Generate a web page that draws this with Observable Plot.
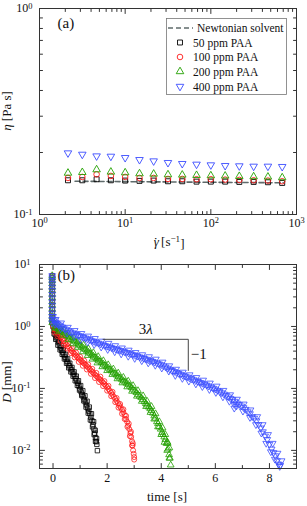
<!DOCTYPE html>
<html><head><meta charset="utf-8">
<script src="https://cdn.jsdelivr.net/npm/d3@7"></script>
<script src="https://cdn.jsdelivr.net/npm/@observablehq/plot@0.6"></script>
<style>
html,body{margin:0;padding:0;background:#fff;}
#chart{position:relative;width:307px;height:506px;}
#chart svg{display:block;}
</style></head><body><div id="chart"></div>
<script>
// ---------- Panel (a): shear viscosity ----------
const shearRates = [2.15, 3.16, 4.64, 6.81, 10, 14.7, 21.5, 31.6, 46.4, 68.1, 100, 147, 215, 316, 464, 681];
const eta50  = [0.1466, 0.1466, 0.1483, 0.1466, 0.1461, 0.1456, 0.1461, 0.1450, 0.1450, 0.1444, 0.1444, 0.1444, 0.1439, 0.1439, 0.1434, 0.1423];
const eta100 = [0.1505, 0.1522, 0.1567, 0.1539, 0.1522, 0.1505, 0.1505, 0.1488, 0.1488, 0.1483, 0.1483, 0.1477, 0.1472, 0.1466, 0.1461, 0.1450];
const eta200 = [0.1590, 0.1602, 0.1651, 0.1609, 0.1596, 0.1579, 0.1573, 0.1561, 0.1556, 0.1550, 0.1544, 0.1539, 0.1533, 0.1527, 0.1522, 0.1510];
const eta400 = [0.1988, 0.1958, 0.1922, 0.1915, 0.1887, 0.1845, 0.1818, 0.1785, 0.1765, 0.1752, 0.1739, 0.1726, 0.1720, 0.1713, 0.1713, 0.1707];
const solventRates = [2.6, 700];
const solventEta = [0.1450, 0.1425];

const legendLabels = ["Newtonian solvent", "50 ppm PAA", "100 ppm PAA", "200 ppm PAA", "400 ppm PAA"];
const seriesColors = ["#000000", "#ff1a1a", "#22a000", "#3a4cff"];
const solventColor = "#5f6b6b";

// ---------- Panel (b): filament diameter decay (t [s], D [mm]) ----------
const dropT = -0.03;
const dropD = [6.6, 6.1, 5.5, 4.9, 4.3, 3.8, 3.3, 2.9, 2.5, 2.2, 1.9, 1.65, 1.45, 1.3, 1.15];
const decay50 = [[0.00,1.0],[0.04,0.85],[0.08,0.74],[0.12,0.66],[0.16,0.61],[0.20,0.55],[0.24,0.49],[0.28,0.45],[0.32,0.41],[0.36,0.38],[0.40,0.35],[0.44,0.32],[0.48,0.295],[0.52,0.272],[0.56,0.252],[0.60,0.233],[0.64,0.216],[0.68,0.200],[0.72,0.184],[0.76,0.170],[0.80,0.157],[0.84,0.144],[0.88,0.132],[0.92,0.121],[0.96,0.109],[1.00,0.098],[1.04,0.088],[1.08,0.080],[1.12,0.073],[1.16,0.066],[1.20,0.060],[1.24,0.054],[1.28,0.048],[1.32,0.043],[1.36,0.039],[1.40,0.034],[1.44,0.030],[1.48,0.026],[1.51,0.022],[1.54,0.019],[1.57,0.016],[1.60,0.0138],[1.62,0.0125],[1.64,0.0099]];
const decay50Hi = [[0.06,0.86],[0.14,0.70],[0.22,0.58],[0.30,0.49],[0.38,0.42],[0.46,0.355],[0.54,0.30],[0.62,0.255],[0.70,0.218],[0.78,0.185],[0.86,0.158],[0.94,0.133],[1.02,0.111],[1.10,0.092],[1.18,0.076],[1.26,0.062],[1.34,0.050],[1.42,0.039],[1.50,0.029],[1.56,0.021],[1.61,0.0155]];
const decay50Lo = [[0.04,0.76],[0.10,0.62],[0.18,0.50],[0.26,0.42],[0.34,0.355],[0.42,0.30],[0.50,0.255],[0.58,0.215],[0.66,0.185],[0.74,0.158],[0.82,0.133],[0.90,0.112],[0.98,0.094],[1.06,0.077],[1.14,0.063],[1.22,0.050],[1.30,0.040],[1.38,0.031],[1.46,0.024],[1.52,0.018],[1.57,0.014]];
const decay100 = [[0.00,1.02],[0.05,0.92],[0.10,0.85],[0.15,0.80],[0.20,0.75],[0.25,0.71],[0.30,0.67],[0.35,0.625],[0.40,0.58],[0.45,0.54],[0.50,0.51],[0.55,0.478],[0.60,0.45],[0.65,0.42],[0.70,0.398],[0.75,0.378],[0.80,0.36],[0.85,0.34],[0.90,0.32],[0.95,0.305],[1.00,0.29],[1.05,0.276],[1.10,0.263],[1.15,0.252],[1.20,0.241],[1.25,0.229],[1.30,0.218],[1.35,0.206],[1.40,0.195],[1.45,0.185],[1.50,0.176],[1.55,0.167],[1.60,0.159],[1.65,0.151],[1.70,0.144],[1.75,0.138],[1.80,0.131],[1.85,0.124],[1.90,0.117],[1.95,0.111],[2.00,0.105],[2.05,0.098],[2.10,0.091],[2.15,0.085],[2.20,0.079],[2.25,0.073],[2.30,0.068],[2.35,0.063],[2.40,0.058],[2.45,0.053],[2.50,0.049],[2.55,0.045],[2.60,0.041],[2.65,0.037],[2.70,0.032],[2.74,0.029],[2.78,0.025],[2.82,0.022],[2.86,0.019],[2.89,0.0165],[2.92,0.014],[2.94,0.012],[2.96,0.010],[2.98,0.0088],[3.00,0.0078],[3.00,0.0071]];
const decay100Hi = [[0.08,0.97],[0.18,0.85],[0.30,0.75],[0.42,0.64],[0.55,0.535],[0.70,0.445],[0.85,0.38],[1.00,0.325],[1.15,0.282],[1.30,0.244],[1.45,0.207],[1.60,0.178],[1.75,0.155],[1.90,0.131],[2.05,0.110],[2.20,0.088],[2.35,0.070],[2.48,0.056],[2.60,0.046],[2.70,0.036],[2.80,0.027],[2.88,0.020],[2.95,0.013]];
const decay100Lo = [[0.06,0.80],[0.16,0.70],[0.28,0.58],[0.40,0.51],[0.52,0.44],[0.66,0.37],[0.80,0.317],[0.95,0.268],[1.10,0.232],[1.25,0.202],[1.40,0.172],[1.55,0.147],[1.70,0.127],[1.85,0.109],[2.00,0.092],[2.15,0.075],[2.30,0.060],[2.42,0.049],[2.55,0.039],[2.65,0.032],[2.75,0.024],[2.84,0.017],[2.92,0.012]];
const decay200 = [[0.00,1.25],[0.04,1.10],[0.08,1.02],[0.12,0.97],[0.16,0.93],[0.21,0.90],[0.27,0.87],[0.33,0.84],[0.39,0.80],[0.45,0.76],[0.51,0.72],[0.57,0.685],[0.63,0.655],[0.69,0.625],[0.76,0.595],[0.82,0.565],[0.88,0.54],[0.94,0.515],[1.00,0.49],[1.06,0.468],[1.13,0.445],[1.19,0.425],[1.25,0.405],[1.31,0.385],[1.37,0.367],[1.43,0.350],[1.49,0.333],[1.55,0.316],[1.61,0.302],[1.67,0.288],[1.73,0.274],[1.79,0.261],[1.86,0.247],[1.92,0.235],[1.98,0.224],[2.04,0.213],[2.10,0.202],[2.16,0.192],[2.23,0.182],[2.29,0.173],[2.35,0.164],[2.41,0.156],[2.47,0.148],[2.54,0.140],[2.60,0.133],[2.66,0.127],[2.72,0.121],[2.78,0.116],[2.84,0.109],[2.90,0.103],[2.96,0.097],[3.02,0.091],[3.08,0.086],[3.14,0.080],[3.20,0.075],[3.26,0.071],[3.32,0.066],[3.38,0.061],[3.43,0.057],[3.48,0.054],[3.54,0.050],[3.59,0.047],[3.64,0.044],[3.69,0.040],[3.74,0.036],[3.79,0.033],[3.84,0.029],[3.88,0.027],[3.93,0.024],[3.98,0.022],[4.03,0.0195],[4.07,0.018],[4.11,0.0165],[4.15,0.015],[4.19,0.013],[4.23,0.0136],[4.25,0.0105],[4.29,0.0085],[4.32,0.0075],[4.35,0.0058]];
const decay200Hi = [[0.10,1.10],[0.25,0.96],[0.40,0.88],[0.58,0.76],[0.76,0.665],[0.94,0.58],[1.13,0.50],[1.31,0.435],[1.49,0.378],[1.67,0.326],[1.86,0.280],[2.04,0.241],[2.23,0.206],[2.41,0.177],[2.60,0.151],[2.78,0.131],[2.96,0.111],[3.14,0.092],[3.33,0.076],[3.48,0.062],[3.64,0.051],[3.79,0.039],[3.93,0.029],[4.05,0.023],[4.15,0.018],[4.24,0.013],[4.30,0.011]];
const decay200Lo = [[0.08,0.94],[0.22,0.82],[0.38,0.72],[0.56,0.61],[0.74,0.525],[0.92,0.46],[1.10,0.39],[1.28,0.34],[1.46,0.297],[1.64,0.258],[1.82,0.224],[2.00,0.194],[2.19,0.168],[2.38,0.143],[2.56,0.123],[2.74,0.106],[2.92,0.090],[3.10,0.075],[3.28,0.062],[3.44,0.051],[3.60,0.041],[3.74,0.032],[3.88,0.024],[4.00,0.018],[4.12,0.0135],[4.22,0.010],[4.30,0.0075]];
const decay400 = [[0.00,1.45],[0.04,1.28],[0.08,1.18],[0.12,1.13],[0.16,1.10],[0.22,1.06],[0.28,1.02],[0.34,0.98],[0.40,0.94],[0.48,0.90],[0.56,0.86],[0.64,0.82],[0.72,0.79],[0.80,0.765],[0.88,0.74],[0.96,0.715],[1.04,0.69],[1.12,0.67],[1.20,0.65],[1.28,0.63],[1.36,0.61],[1.44,0.59],[1.52,0.572],[1.60,0.555],[1.68,0.538],[1.76,0.522],[1.84,0.506],[1.92,0.492],[2.00,0.479],[2.08,0.466],[2.16,0.454],[2.24,0.443],[2.32,0.432],[2.40,0.421],[2.48,0.411],[2.56,0.401],[2.64,0.391],[2.72,0.381],[2.80,0.371],[2.88,0.361],[2.96,0.351],[3.04,0.341],[3.12,0.332],[3.20,0.323],[3.28,0.314],[3.36,0.305],[3.44,0.297],[3.52,0.289],[3.60,0.281],[3.68,0.273],[3.76,0.265],[3.84,0.257],[3.92,0.249],[4.00,0.241],[4.08,0.232],[4.16,0.222],[4.24,0.212],[4.32,0.203],[4.40,0.195],[4.48,0.188],[4.56,0.181],[4.64,0.175],[4.72,0.169],[4.80,0.163],[4.88,0.158],[4.96,0.153],[5.04,0.148],[5.12,0.143],[5.20,0.138],[5.28,0.133],[5.36,0.129],[5.44,0.125],[5.52,0.121],[5.60,0.117],[5.68,0.113],[5.76,0.109],[5.84,0.105],[5.92,0.101],[6.00,0.0975],[6.08,0.093],[6.16,0.089],[6.24,0.085],[6.32,0.081],[6.40,0.077],[6.48,0.073],[6.56,0.069],[6.64,0.066],[6.70,0.055],[6.72,0.062],[6.80,0.058],[6.88,0.055],[6.96,0.052],[7.04,0.049],[7.12,0.046],[7.20,0.042],[7.28,0.039],[7.36,0.035],[7.44,0.033],[7.52,0.030],[7.60,0.026],[7.68,0.023],[7.76,0.020],[7.84,0.017],[7.92,0.015],[8.00,0.0125],[8.08,0.0105],[8.15,0.0092],[8.22,0.0082],[8.28,0.0068],[8.34,0.0060],[8.40,0.0058]];
const decay400Hi = [[0.10,1.30],[0.30,1.14],[0.55,0.97],[0.80,0.86],[1.05,0.77],[1.30,0.70],[1.55,0.64],[1.80,0.58],[2.05,0.535],[2.30,0.49],[2.55,0.45],[2.80,0.415],[3.05,0.38],[3.30,0.35],[3.55,0.325],[3.80,0.297],[4.05,0.266],[4.30,0.232],[4.55,0.204],[4.80,0.183],[5.05,0.166],[5.30,0.150],[5.55,0.136],[5.80,0.122],[6.05,0.109],[6.30,0.093],[6.55,0.079],[6.80,0.067],[7.05,0.056],[7.30,0.045],[7.55,0.035],[7.75,0.026],[7.95,0.018],[8.12,0.013],[8.30,0.009],[8.45,0.0068]];
const decay400Lo = [[0.08,1.08],[0.28,0.92],[0.52,0.78],[0.78,0.69],[1.02,0.615],[1.28,0.56],[1.52,0.51],[1.78,0.465],[2.02,0.425],[2.28,0.39],[2.52,0.36],[2.78,0.33],[3.02,0.305],[3.28,0.28],[3.52,0.258],[3.78,0.236],[4.02,0.213],[4.28,0.19],[4.52,0.162],[4.78,0.145],[5.02,0.131],[5.28,0.118],[5.52,0.107],[5.78,0.096],[6.02,0.086],[6.28,0.073],[6.52,0.062],[6.70,0.048],[6.78,0.052],[7.02,0.043],[7.28,0.034],[7.50,0.026],[7.70,0.019],[7.88,0.013],[8.05,0.0095],[8.20,0.0072],[8.38,0.0055]];
const slopeT = [1.85, 5.0, 5.0];
const slopeD = [0.62, 0.62, 0.195];

// ticks
const xMajorA = [1, 10, 100, 1000];
const yMajorA = [0.1, 1];
const xMajorB = [0, 2, 4, 6, 8];
const xMinorB = [1, 3, 5, 7];
const yMajorB = [0.01, 0.1, 1, 10];

// ---------- helpers ----------
const FONT = '"Liberation Serif","Times New Roman",serif';
const AXIS = "#333";
const sqrt3 = Math.sqrt(3);
const triangleDown = {
  draw(context, size) {
    const y = -Math.sqrt(size / (sqrt3 * 3));
    context.moveTo(0, -y * 2);
    context.lineTo(-sqrt3 * y, y);
    context.lineTo(sqrt3 * y, y);
    context.closePath();
  }
};
const seriesSymbols = ["square", "circle", "triangle", triangleDown];
const d3Symbols = [d3.symbolSquare, d3.symbolCircle, d3.symbolTriangle, triangleDown];
const tickShape = { draw(context, l) { context.moveTo(0, 0); context.lineTo(0, -l); } };
const pow10 = d => `10^${Math.round(Math.log10(d))}`;
function minorLog(lo, hi) {
  const out = [];
  for (let e = Math.floor(Math.log10(lo)); e <= Math.ceil(Math.log10(hi)); e++)
    for (let m = 2; m <= 9; m++) { const v = m * 10 ** e; if (v > lo && v < hi) out.push(v); }
  return out;
}
function frameTicks(xv, yv, len) {
  const o = {shape: tickShape, anchor: "start", length: len, stroke: AXIS, strokeWidth: 1};
  return [
    Plot.vector(xv, {...o, x: d => d, frameAnchor: "bottom", rotate: 0}),
    Plot.vector(xv, {...o, x: d => d, frameAnchor: "top", rotate: 180}),
    Plot.vector(yv, {...o, y: d => d, frameAnchor: "left", rotate: 90}),
    Plot.vector(yv, {...o, y: d => d, frameAnchor: "right", rotate: -90})
  ];
}
const SVGNS = "http://www.w3.org/2000/svg";
function superscriptTicks(svg) {
  svg.querySelectorAll("text").forEach(t => {
    const m = t.textContent.match(/^10\^(-?\d+)$/);
    if (!m) return;
    t.textContent = "10";
    const ts = document.createElementNS(SVGNS, "tspan");
    ts.setAttribute("dy", "-0.45em");
    ts.setAttribute("font-size", "70%");
    ts.textContent = m[1];
    t.appendChild(ts);
  });
}
function addText(svg, x, y, parts, opts = {}) {
  const t = d3.select(svg).append("text")
    .attr("transform", `translate(${x},${y})${opts.rotate ? ` rotate(${opts.rotate})` : ""}`)
    .attr("text-anchor", opts.anchor || "middle")
    .attr("font-family", FONT).attr("font-size", opts.size || 13).attr("fill", "#111");
  parts.forEach(p => {
    const s = t.append("tspan").text(p.text);
    if (p.italic) s.attr("font-style", "italic");
    if (p.dx) s.attr("dx", p.dx);
    if (p.dy) s.attr("dy", p.dy);
    if (p.sup) s.attr("dy", "-0.45em").attr("font-size", "70%");
    if (p.unsup) s.attr("dy", "0.45em");
  });
  return t;
}

const chart = document.getElementById("chart");

// ---------- Panel (a) ----------
const rowsA = [eta50, eta100, eta200, eta400].map((vals, i) => vals.map((v, j) => ({x: shearRates[j], y: v})));
const plotA = Plot.plot({
  width: 307, height: 250,
  marginLeft: 39, marginRight: 11, marginTop: 8, marginBottom: 36,
  x: {type: "log", domain: [1, 1000]},
  y: {type: "log", domain: [0.1, 1]},
  style: {fontFamily: FONT, fontSize: "12px", color: "#111", background: "white"},
  marks: [
    ...frameTicks(xMajorA, yMajorA, 5),
    ...frameTicks(minorLog(1, 1000), minorLog(0.1, 1), 3),
    Plot.axisX(xMajorA, {tickSize: 0, tickPadding: 4, tickFormat: pow10, label: null}),
    Plot.axisY(yMajorA, {tickSize: 0, tickPadding: 7, tickFormat: pow10, label: null}),
    Plot.line(solventRates.map((r, i) => [r, solventEta[i]]), {x: d => d[0], y: d => d[1], stroke: solventColor, strokeWidth: 1.6, strokeDasharray: "5,3"}),
    ...rowsA.map((rows, i) => Plot.dot(rows, {x: "x", y: "y", symbol: seriesSymbols[i], r: 2.8, stroke: seriesColors[i], strokeWidth: 0.9, fill: "none"})),
    Plot.frame({stroke: AXIS, strokeWidth: 1}),
    Plot.text(["(a)"], {frameAnchor: "top-left", dx: 18, dy: 15, textAnchor: "start", lineAnchor: "middle", fontSize: 15, fill: "#111"})
  ]
});
superscriptTicks(plotA);
addText(plotA, 11, 111, [{text: "η", italic: true}, {text: " [Pa s]"}], {rotate: -90});
addText(plotA, 169, 246, [{text: "γ", italic: true}, {text: "˙", dx: "-0.42em", dy: "-0.02em"}, {text: " [s"}, {text: "−1", sup: true}, {text: "]", unsup: true}]);
// legend
{
  const g = d3.select(plotA).append("g").attr("font-family", FONT).attr("font-size", 11.5).attr("fill", "#111").attr("text-anchor", "start");
  g.append("rect").attr("x", 166.5).attr("y", 18.5).attr("width", 120).attr("height", 76).attr("fill", "white").attr("stroke", "#777").attr("stroke-width", 0.8);
  const rowY = [28, 42.5, 57, 71.5, 86.5];
  g.append("line").attr("x1", 168).attr("x2", 193).attr("y1", rowY[0]).attr("y2", rowY[0]).attr("stroke", solventColor).attr("stroke-width", 1.6).attr("stroke-dasharray", "5,3");
  g.append("text").attr("x", 197).attr("y", rowY[0]).attr("dy", "0.35em").attr("text-anchor", "start").text(legendLabels[0]);
  for (let i = 0; i < 4; i++) {
    g.append("path").attr("d", d3.symbol(d3Symbols[i], Math.PI * 2.8 * 2.8)()).attr("transform", `translate(180,${rowY[i + 1]})`)
      .attr("fill", "none").attr("stroke", seriesColors[i]).attr("stroke-width", 0.9);
    g.append("text").attr("x", 193).attr("y", rowY[i + 1]).attr("dy", "0.35em").attr("text-anchor", "start").text(legendLabels[i + 1]);
  }
}
chart.appendChild(plotA);

// ---------- Panel (b) ----------
const seriesB = [[decay50, decay50Hi, decay50Lo], [decay100, decay100Hi, decay100Lo], [decay200, decay200Hi, decay200Lo], [decay400, decay400Hi, decay400Lo]];
const rowsB = seriesB.map(parts =>
  dropD.map(d => ({t: dropT, D: d})).concat(...parts.map(p => p.map(([t, D]) => ({t, D})))));
const plotB = Plot.plot({
  width: 307, height: 256,
  marginLeft: 39, marginRight: 11, marginTop: 14, marginBottom: 38,
  x: {domain: [-0.5, 9]},
  y: {type: "log", domain: [0.0051, 10]},
  style: {fontFamily: FONT, fontSize: "12px", color: "#111", background: "white"},
  marks: [
    ...frameTicks(xMajorB, yMajorB, 5),
    ...frameTicks(xMinorB, minorLog(0.0051, 10), 3),
    Plot.axisX(xMajorB, {tickSize: 0, tickPadding: 5, label: null}),
    Plot.axisY(yMajorB, {tickSize: 0, tickPadding: 9, tickFormat: pow10, label: null}),
    ...rowsB.map((rows, i) => Plot.dot(rows, {x: "t", y: "D", symbol: seriesSymbols[i], r: 2.5, stroke: seriesColors[i], strokeWidth: 0.8, fill: "none"})),
    Plot.line(slopeT.map((t, i) => [t, slopeD[i]]), {x: d => d[0], y: d => d[1], stroke: "#444", strokeWidth: 1}),
    Plot.frame({stroke: AXIS, strokeWidth: 1}),
    Plot.text(["(b)"], {frameAnchor: "top-left", dx: 18, dy: 11, textAnchor: "start", lineAnchor: "middle", fontSize: 15, fill: "#111"})
  ]
});
superscriptTicks(plotB);
{
  const sx = plotB.scale("x"), sy = plotB.scale("y");
  addText(plotB, sx.apply((slopeT[0] + slopeT[1]) / 2 + 0.02), sy.apply(slopeD[0]) - 5, [{text: "3"}, {text: "λ", italic: true}], {size: 15});
  addText(plotB, sx.apply(slopeT[2]) + 3, sy.apply(Math.sqrt(slopeD[1] * slopeD[2])) + 5, [{text: "−1"}], {size: 15, anchor: "start"});
}
addText(plotB, 11, 132, [{text: "D", italic: true}, {text: " [mm]"}], {rotate: -90});
addText(plotB, 167, 251, [{text: "time [s]"}]);
chart.appendChild(plotB);
</script>
</body></html>
